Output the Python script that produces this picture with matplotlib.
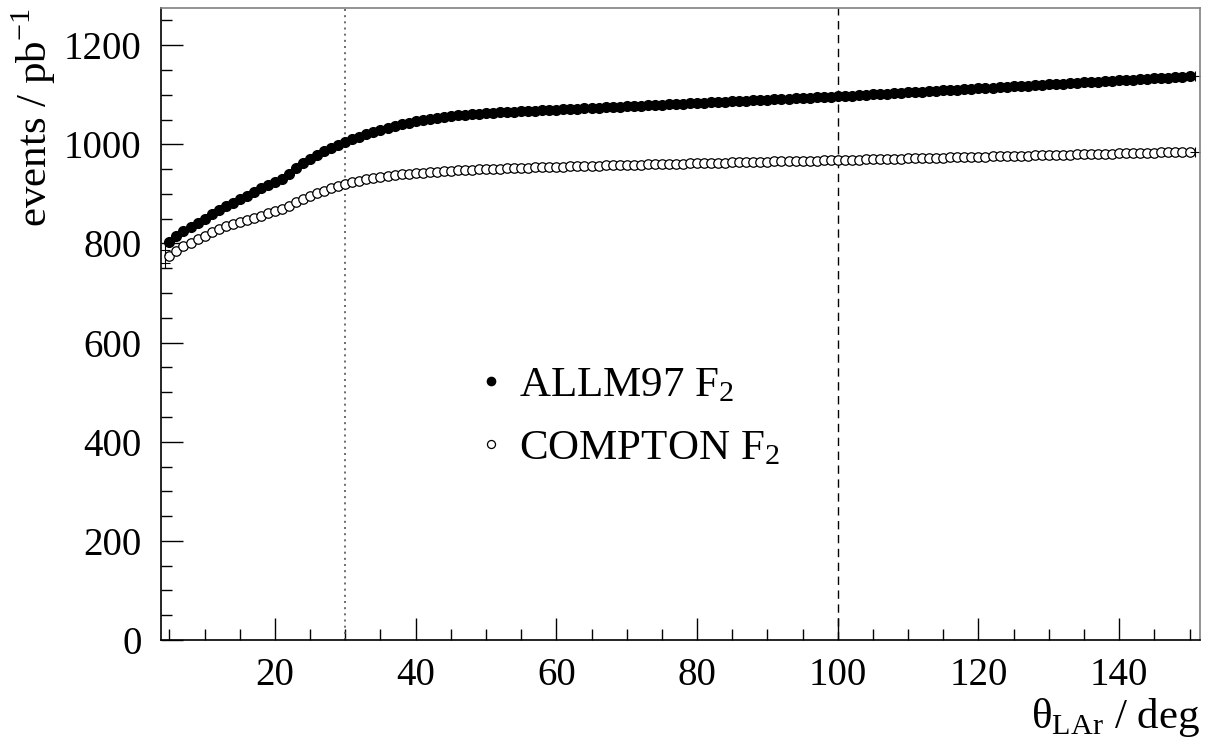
import matplotlib
matplotlib.use("Agg")
import matplotlib.pyplot as plt
from matplotlib.ticker import MultipleLocator

plt.rcParams["font.family"] = ["Liberation Serif", "DejaVu Serif"]
plt.rcParams["mathtext.fontset"] = "custom"
plt.rcParams["mathtext.rm"] = "Liberation Serif"

# theta_LAr in degrees, one point per degree
theta = list(range(5, 151))

allm97 = [
    802, 815, 825, 833, 841, 850, 859, 867, 875, 882,
    889, 896, 903, 911, 918, 924, 931, 941, 952, 962,
    971, 979, 986, 993, 999, 1005, 1010, 1015, 1020, 1025,
    1029, 1033, 1037, 1041, 1044, 1047, 1050, 1052, 1054, 1056,
    1057, 1059, 1060, 1061, 1062, 1063, 1064, 1065, 1066, 1066,
    1067, 1068, 1068, 1069, 1070, 1070, 1071, 1071, 1072, 1073,
    1073, 1074, 1075, 1075, 1076, 1077, 1077, 1078, 1079, 1079,
    1080, 1081, 1081, 1082, 1083, 1083, 1084, 1085, 1085, 1086,
    1087, 1087, 1088, 1089, 1089, 1090, 1091, 1091, 1092, 1093,
    1093, 1094, 1095, 1095, 1096, 1097, 1098, 1098, 1099, 1100,
    1101, 1102, 1102, 1103, 1104, 1105, 1106, 1106, 1107, 1108,
    1109, 1110, 1110, 1111, 1112, 1113, 1114, 1114, 1115, 1116,
    1117, 1118, 1118, 1119, 1120, 1121, 1122, 1122, 1123, 1124,
    1125, 1126, 1126, 1127, 1128, 1129, 1130, 1130, 1131, 1132,
    1133, 1134, 1134, 1135, 1136, 1137,
]

compton = [
    774, 785, 794, 801, 809, 816, 823, 829, 835, 840,
    844, 848, 852, 856, 861, 865, 870, 876, 883, 890,
    896, 901, 906, 911, 915, 919, 923, 927, 930, 932,
    934, 936, 938, 940, 941, 942, 943, 944, 945, 946,
    947, 948, 948, 949, 950, 950, 951, 951, 952, 952,
    953, 953, 954, 954, 955, 955, 955, 956, 956, 957,
    957, 957, 958, 958, 958, 959, 959, 959, 960, 960,
    960, 961, 961, 961, 962, 962, 962, 963, 963, 963,
    964, 964, 964, 965, 965, 965, 966, 966, 966, 967,
    967, 967, 967, 968, 968, 968, 969, 969, 969, 970,
    970, 970, 971, 971, 971, 972, 972, 972, 973, 973,
    973, 974, 974, 974, 975, 975, 975, 976, 976, 976,
    977, 977, 977, 978, 978, 978, 979, 979, 979, 980,
    980, 980, 981, 981, 981, 982, 982, 982, 983, 983,
    983, 984, 984, 984, 985, 985,
]

# stray points at the left edge (drawn only as error crosses)
edge_x = [4.4, 4.4]
edge_y = [786, 760]

fig = plt.figure(figsize=(12.15, 7.49), dpi=100)
ax = fig.add_axes([0.1325, 0.1455, 0.8552, 0.8438])

ax.axvline(30, color="#555555", linestyle=(0, (1.2, 2.5)), linewidth=1.2)
ax.axvline(100, color="black", linestyle=(0, (6, 4)), linewidth=1.0)

ax.plot(theta, allm97, "o", color="black", markersize=7.0, label="ALLM97 $\\mathregular{F_2}$")
ax.plot(theta, compton, "o", markerfacecolor="white", markeredgecolor="black",
        markeredgewidth=0.9, markersize=6.8, label="COMPTON $\\mathregular{F_2}$")
ax.plot(edge_x, edge_y, "+", color="black", markersize=7, markeredgewidth=0.8)
ax.plot([150.8, 150.8], [allm97[-1], compton[-1]], "+", color="black",
        markersize=7, markeredgewidth=0.8)

ax.set_xlim(3.8, 151.5)
ax.set_ylim(0, 1275)

ax.xaxis.set_major_locator(MultipleLocator(20))
ax.xaxis.set_minor_locator(MultipleLocator(5))
ax.yaxis.set_major_locator(MultipleLocator(200))
ax.yaxis.set_minor_locator(MultipleLocator(50))
ax.tick_params(which="both", direction="in", top=False, right=False, labelsize=28)
ax.tick_params(which="major", length=16, width=1.0)
ax.tick_params(which="minor", length=8, width=1.0)
ax.tick_params(axis="x", pad=12)
ax.tick_params(axis="y", pad=14)

ax.set_xticks([20, 40, 60, 80, 100, 120, 140])

for side in ["top", "right"]:
    ax.spines[side].set_color("#808080")
for sp in ax.spines.values():
    sp.set_linewidth(1.2)

ax.set_xlabel("θ$_{\\mathregular{LAr}}$ / deg", fontsize=31, loc="right", labelpad=2)
ax.set_ylabel("events / pb$^{\\mathregular{-1}}$", fontsize=31, loc="top", labelpad=4)

ax.legend(loc="upper left", bbox_to_anchor=(0.27, 0.495), frameon=False, fontsize=31,
          handlelength=0.5, handletextpad=0.4, labelspacing=0.55, markerscale=0.85)

fig.savefig("out.png", dpi=100)
